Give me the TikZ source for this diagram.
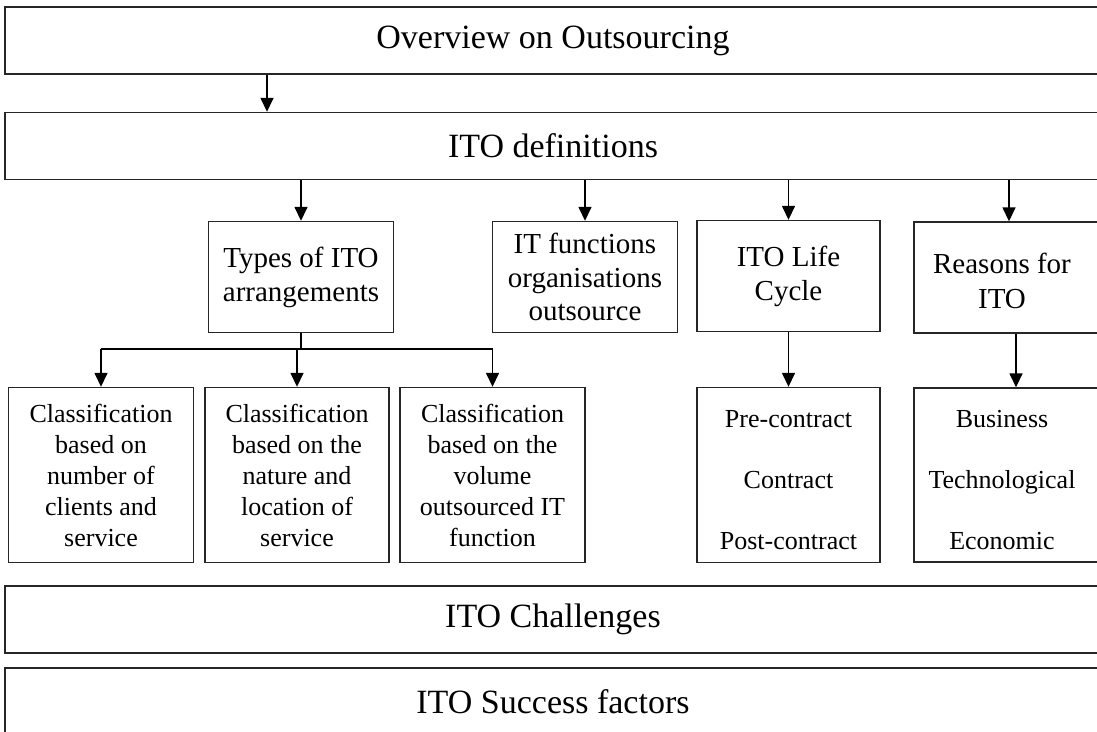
\documentclass[tikz,border=0pt]{standalone}
\usepackage{fontspec}
\setmainfont{Liberation Serif}
\usetikzlibrary{arrows.meta}
\begin{document}
\begin{tikzpicture}[x=1pt,y=-1pt,
  box/.style={draw=black!85, line width=1.4pt, inner sep=0pt, align=center},
  bigbox/.style={box, minimum width=1096pt, minimum height=67pt, font=\fontsize{34}{40}\selectfont},
  midbox/.style={box, minimum width=185pt, minimum height=111pt, font=\fontsize{29}{34}\selectfont},
  lowbox/.style={box, minimum width=185pt, minimum height=175pt, font=\fontsize{26}{31}\selectfont},
  plain/.style={align=center, inner sep=0pt},
  link/.style={line width=1.5pt, draw=black},
  arr/.style={link, -{Triangle[width=13pt,length=14pt]}}]

% page frame
\useasboundingbox (0,0) rectangle (1097,731);
\fill[white] (0,0) rectangle (1097,731);
\clip (0,0) rectangle (1097,731);

% full-width bands
\node[bigbox] (over) at (553,40.5) {Overview on Outsourcing};
\node[bigbox] (defs) at (553,146) {ITO definitions};
\node[bigbox] (chall) at (553,619.5) {ITO Challenges};
\node[bigbox] (succ) at (553,701.5) {ITO Success factors};

% second level
\node[midbox] (types) at (301,277) {Types of ITO\\arrangements};
\node[midbox, font=\fontsize{29}{33.5}\selectfont] (itfun) at (585,277) {IT functions\\organisations\\outsource};
\node[midbox, minimum width=183pt] (life) at (788.5,276) {ITO Life\\Cycle};
\node[box, minimum width=196pt, minimum height=111pt] (reasons) at (1012,277.5) {};
\node[plain, font=\fontsize{29}{35}\selectfont] (reasonstxt) at (1002,281) {Reasons for\\ITO};

% third level
\node[lowbox] (cls1) at (101,475) {Classification\\based on\\number of\\clients and\\service};
\node[lowbox, minimum width=184pt] (cls2) at (297,475) {Classification\\based on the\\nature and\\location of\\service};
\node[lowbox] (cls3) at (492.5,475) {Classification\\based on the\\volume\\outsourced IT\\function};
\node[lowbox, minimum width=183pt] (phases) at (788.5,475) {};
\node[plain, font=\fontsize{26}{61}\selectfont] (phasestxt) at (788.5,480) {Pre-contract\\Contract\\Post-contract};
\node[box, minimum width=196pt, minimum height=174pt] (kinds) at (1012,475) {};
\node[plain, font=\fontsize{26}{61}\selectfont] (kindstxt) at (1002,480) {Business\\Technological\\Economic};

% connectors
\coordinate (col1) at (267,0);
\coordinate (col2) at (1009,0);
\coordinate (col3) at (1016,0);
\coordinate (split) at (301,349);

\draw[arr] (over.south -| col1) -- (defs.north -| col1);
\draw[arr] (defs.south -| types) -- (types.north);
\draw[arr] (defs.south -| itfun) -- (itfun.north);
\draw[arr] (defs.south -| life) -- (life.north);
\draw[arr] (defs.south -| col2) -- (reasons.north -| col2);

\draw[link] (types.south) -- (split);
\draw[link] (split -| cls1) -- (split -| cls3);
\draw[arr] (split -| cls1) -- (cls1.north);
\draw[arr] (split -| cls2) -- (cls2.north);
\draw[arr] (split -| cls3) -- (cls3.north);

\draw[arr] (life.south) -- (phases.north);
\draw[arr] (reasons.south -| col3) -- (kinds.north -| col3);
\end{tikzpicture}
\end{document}
